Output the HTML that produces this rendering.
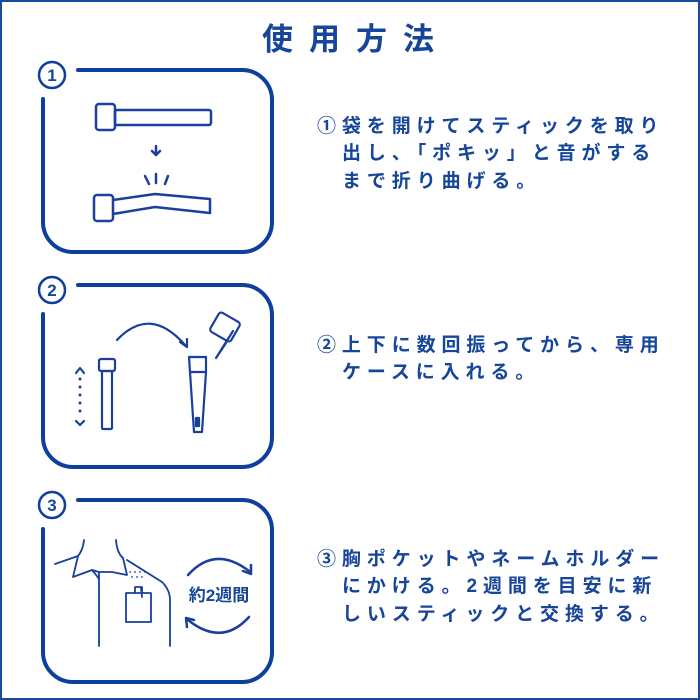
<!DOCTYPE html>
<html><head><meta charset="utf-8"><style>
html,body{margin:0;padding:0;background:#fff}
svg{display:block}
.t{font-family:"Liberation Sans","Noto Sans CJK JP",sans-serif;font-weight:bold;fill:#16459a}
</style></head><body>
<svg width="700" height="700" viewBox="0 0 700 700" xmlns="http://www.w3.org/2000/svg">
<rect x="1" y="1" width="698" height="698" fill="none" stroke="#1a4aa0" stroke-width="2"/>
<text class="t" x="356" y="50" font-size="31" text-anchor="middle" letter-spacing="16">使用方法</text>

<g fill="none" stroke="#0d3f9f" stroke-width="4" stroke-linecap="round" stroke-linejoin="round">
<path d="M78 70 H242 A30 30 0 0 1 272 100 V222 A30 30 0 0 1 242 252 H73 A30 30 0 0 1 43 222 V99"/>
<circle cx="52" cy="75" r="13" stroke-width="2.5"/>
<path d="M78 285 H242 A30 30 0 0 1 272 315 V437 A30 30 0 0 1 242 467 H73 A30 30 0 0 1 43 437 V314"/>
<circle cx="52" cy="290" r="13" stroke-width="2.5"/>
<path d="M78 500 H242 A30 30 0 0 1 272 530 V652 A30 30 0 0 1 242 682 H73 A30 30 0 0 1 43 652 V529"/>
<circle cx="52" cy="505" r="13" stroke-width="2.5"/>
</g>
<g class="t" font-size="17" text-anchor="middle">
<text x="52" y="81">1</text><text x="52" y="296">2</text><text x="52" y="511">3</text>
</g>

<g fill="none" stroke="#1a3f9c" stroke-width="2.5" stroke-linejoin="round" stroke-linecap="round">
<rect x="96" y="104" width="19" height="26" rx="3"/>
<rect x="115" y="110" width="96" height="15" rx="2"/>
<path d="M156 146 V155 M152 151 L156 155 L160 151"/>
<path d="M145 176 L149 184 M156 174 V183 M168 176 L165 184"/>
<rect x="94" y="195" width="19" height="26" rx="3"/>
<path d="M113 200 L155 194 L210 199 V213 L155 207 L113 214"/>
</g>

<g fill="none" stroke="#1a3f9c" stroke-width="2.2" stroke-linejoin="round" stroke-linecap="round">
<path d="M117 340 Q150 305 185 345"/>
<path d="M180 342 L187 347 L187 339"/>
<path d="M76 373 L80 368 L84 373 M76 421 L80 425 L84 421"/>
<rect x="99" y="359" width="16" height="12" rx="2"/>
<rect x="102" y="371" width="10" height="58" rx="1"/>
<path d="M189 357 H206 V372 L202 432 H194 L190 372 Z M190 372 H206"/>
<rect x="196" y="418" width="3" height="8" fill="#1a3f9c"/>
<rect x="213" y="316" width="24" height="22" rx="3" transform="rotate(30 225 327)"/>
<path d="M233 331 L216 358 L226 343"/>
</g>
<g fill="#1a3f9c"><circle cx="80" cy="379" r="1.5"/><circle cx="80" cy="387" r="1.5"/><circle cx="80" cy="395" r="1.5"/><circle cx="80" cy="403" r="1.5"/><circle cx="80" cy="411" r="1.5"/></g>

<g fill="none" stroke="#1a3f9c" stroke-width="1.8" stroke-linejoin="round" stroke-linecap="round">
<path d="M84 540 Q83 550 78 556 L55 564"/>
<path d="M116 540 Q117 553 123 558"/>
<path d="M78 556 L73 577 L92 570 L99 572 L112 572 L127 575 L123 558"/>
<path d="M99 572 V646 M92 570 Q99 578 99 580"/>
<path d="M127 560 L162 582 Q170 590 170 600 V646"/>
<rect x="126" y="593" width="25" height="29"/>
<path d="M135 593 V587 H142 V593 M141 588 L142 597"/>
</g>
<g fill="#1a3f9c"><circle cx="130" cy="572" r="0.9"/><circle cx="135" cy="572" r="0.9"/><circle cx="140" cy="572" r="0.9"/><circle cx="145" cy="572" r="0.9"/><circle cx="132" cy="577" r="0.9"/><circle cx="137" cy="577" r="0.9"/><circle cx="142" cy="577" r="0.9"/></g>
<g fill="none" stroke="#1a3f9c" stroke-width="2.5" stroke-linecap="round" stroke-linejoin="round">
<path d="M188 575 Q215 545 249 571"/><path d="M243 571 L251 574 L251 565"/>
<path d="M249 617 Q222 647 188 620"/><path d="M194 620 L186 618 L187 627"/>
</g>
<text class="t" x="219" y="601" font-size="17" text-anchor="middle">約2週間</text>

<g class="t" font-size="19" letter-spacing="5.9">
<text x="317" y="132">①袋を開けてスティックを取り</text>
<text x="342" y="159">出し、「ポキッ」と音がする</text>
<text x="342" y="187">まで折り曲げる。</text>
<text x="317" y="351">②上下に数回振ってから、専用</text>
<text x="342" y="378">ケースに入れる。</text>
<text x="317" y="565">③胸ポケットやネームホルダー</text>
<text x="342" y="592">にかける。2週間を目安に新</text>
<text x="342" y="620">しいスティックと交換する。</text>
</g>
</svg>
</body></html>
